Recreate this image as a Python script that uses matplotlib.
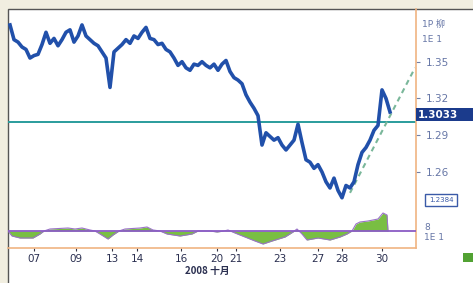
import numpy as np
import matplotlib
matplotlib.use("Agg")
from matplotlib import pyplot as plt
from matplotlib.patches import Rectangle

plt.rcParams['font.family'] = ['DejaVu Sans', 'Noto Sans CJK SC']

# EUR/USD hourly closes, late Oct 2008
price = [1.380, 1.368, 1.366, 1.362, 1.360, 1.353, 1.355, 1.356, 1.364, 1.374,
         1.365, 1.369, 1.363, 1.368, 1.374, 1.376, 1.366, 1.371, 1.380, 1.371,
         1.368, 1.365, 1.363, 1.358, 1.353, 1.329, 1.358, 1.361, 1.364, 1.368,
         1.365, 1.371, 1.369, 1.374, 1.378, 1.369, 1.368, 1.364, 1.365, 1.360,
         1.358, 1.353, 1.347, 1.350, 1.345, 1.343, 1.348, 1.347, 1.350, 1.347,
         1.345, 1.348, 1.343, 1.348, 1.351, 1.342, 1.337, 1.335, 1.332, 1.323,
         1.317, 1.312, 1.306, 1.282, 1.292, 1.289, 1.286, 1.288, 1.282, 1.278,
         1.282, 1.286, 1.299, 1.284, 1.270, 1.268, 1.263, 1.266, 1.260, 1.252,
         1.247, 1.255, 1.245, 1.239, 1.249, 1.247, 1.252, 1.266, 1.276, 1.280,
         1.286, 1.294, 1.298, 1.327, 1.320, 1.309]

# MACD histogram outline
macd_x = [-0.5, 0.5, 2.5, 5.75, 7.5, 8.5, 10, 14.5, 16.25, 18, 20, 21.25, 22.5,
          24.5, 25.75, 27.25, 28.75, 32.5, 34.25, 35.75, 37.5, 39.25, 42.5, 45.5,
          47, 50, 51.75, 53.5, 54.5, 56.25, 58.75, 61.25, 63.25, 65.5, 68.75,
          70.75, 71.75, 73, 74.25, 77, 80, 82.5, 84.25, 85.5, 86.5, 87.5, 89.5,
          92, 93.25, 94.25, 94.5]
macd_v = [0, -5, -7, -7, -3, 0, 2, 3, 2, 3, 1, 0, -3, -8, -4, 0, 2, 3, 4, 1, 0,
          -3, -5, -3, 0, 0, -1, 0, 1, -2, -6, -10, -13, -10, -6, -1, 2, -3, -9,
          -7, -9, -6, -3, 0, 7, 9, 10, 12, 18, 16, 0]

tick_pos = [6, 16.5, 25.5, 31.75, 42.75, 51.75, 56.5, 67.5, 77, 83, 93]
tick_lab = ['07', '09', '13', '14', '16', '20', '21', '23', '27', '28', '30']

y_ticks = [1.35, 1.32, 1.29, 1.26]
support = 1.301
trend_x = [85, 101.25]
trend_y = [1.243, 1.345]
last_txt = '1.3033'
low_txt = '1.2384'

W, H = 473, 283
fig = plt.figure(figsize=(W / 100, H / 100), dpi=100)
fig.patch.set_facecolor('#f1eee0')

def fx(px):
    return px / W

def fy(py):
    return 1 - py / H

# white panel
fig.patches.append(Rectangle((fx(8), fy(290)), fx(470), 281 / H, transform=fig.transFigure,
                             facecolor='white', edgecolor='#555555', lw=1.0, zorder=-5))

ax = fig.add_axes([fx(8), fy(248), fx(408), 239 / H])
ax.set_facecolor('none')
x = np.arange(len(price))
ax.plot(x, price, color='#2150aa', lw=2.6, zorder=3)
ax.axhline(support, color='#2a9c9c', lw=1.4, zorder=2)
ax.plot(trend_x, trend_y, color='#7ab79a', lw=1.5, ls=(0, (2.5, 2)), zorder=2, clip_on=False)

ax.set_xlim(-0.5, 101.5)
ax.set_ylim(1.198, 1.393)
ax.yaxis.tick_right()
ax.set_yticks(y_ticks)
ax.set_yticklabels(['%.2f' % v for v in y_ticks])
ax.tick_params(axis='y', length=3, color='#7080a8', labelcolor='#6676a6', labelsize=7.5, pad=4)
ax.set_xticks(tick_pos)
ax.set_xticklabels(tick_lab)
ax.tick_params(axis='x', length=2, color='#333344', labelcolor='#2a2f50', labelsize=7.5, pad=2)
for s in ['left', 'top']:
    ax.spines[s].set_visible(False)
for s in ['right', 'bottom']:
    ax.spines[s].set_color('#f0b482')
    ax.spines[s].set_linewidth(1.2)

# MACD panel
mx = fig.add_axes([fx(8), fy(248), fx(408), 43 / H])
mx.set_facecolor('none')
mx.fill_between(macd_x, macd_v, 0, color='#79be43', lw=0)
mx.plot(macd_x, macd_v, color='#9a72c8', lw=0.8)
mx.axhline(0, color='#8a5cc4', lw=1.3)
mx.set_xlim(-0.5, 101.5)
mx.set_ylim(-17, 26)
mx.axis('off')

# right side labels
fig.patches.append(Rectangle((fx(416), fy(121)), fx(60), 13 / H, transform=fig.transFigure,
                             facecolor='#1b3b8c', edgecolor='none', zorder=5))
fig.text(fx(418), fy(114.5), last_txt, color='white', fontsize=7.5, fontweight='bold',
         va='center', zorder=7)
fig.patches.append(Rectangle((fx(425), fy(206)), fx(32), 12 / H, transform=fig.transFigure,
                             facecolor='white', edgecolor='#3a5aa8', lw=1.0, zorder=5))
fig.text(fx(441), fy(200), low_txt, color='#3a5aa8', fontsize=5, ha='center', va='center', zorder=7)
fig.text(fx(422), fy(25), '1P 柳', color='#6676a6', fontsize=6.5, va='center',
         family=['DejaVu Sans', 'Noto Sans CJK SC'])
fig.text(fx(422), fy(40), '1E 1', color='#6676a6', fontsize=6.5, va='center')
fig.text(fx(424), fy(227), '8', color='#6676a6', fontsize=6.5, va='center')
fig.text(fx(424), fy(238), '1E 1', color='#6676a6', fontsize=6.5, va='center')
fig.text(fx(207), fy(271), '2008 十月', color='#2a2f50', fontsize=7, ha='center', va='center',
         fontweight='bold', family=['Noto Sans CJK SC', 'DejaVu Sans'])
fig.patches.append(Rectangle((fx(463), fy(262)), fx(14), 9 / H, transform=fig.transFigure,
                             facecolor='#52a233', edgecolor='none', zorder=5))

fig.savefig('out.png', dpi=100, facecolor=fig.get_facecolor())
